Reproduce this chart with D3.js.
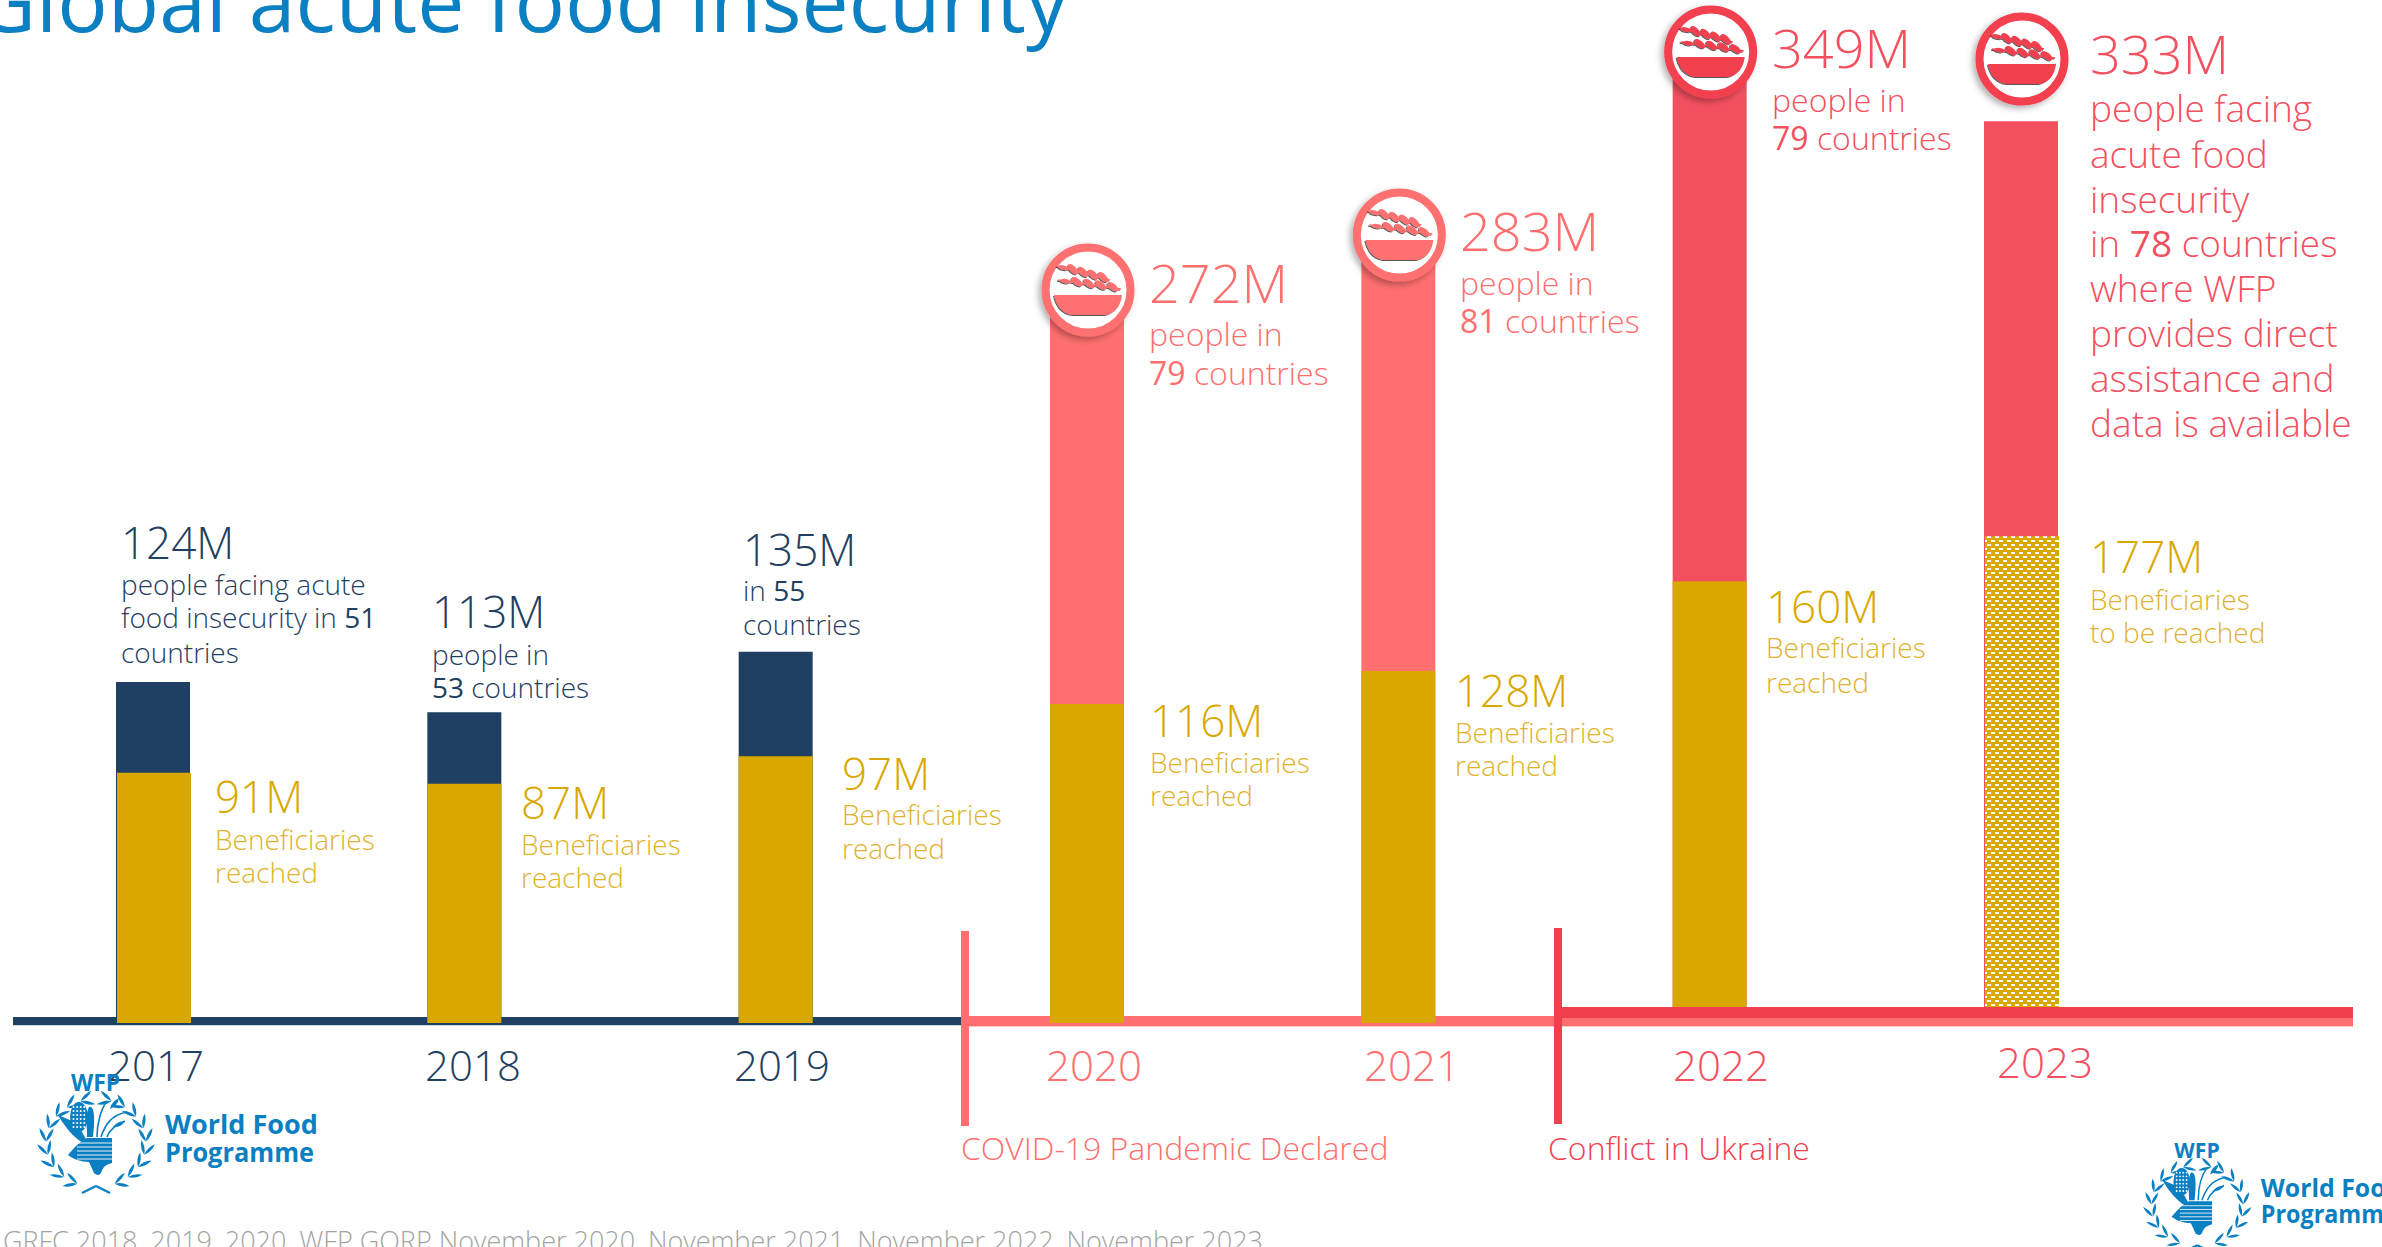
<!DOCTYPE html>
<html>
<head>
<meta charset="utf-8">
<title>Global acute food insecurity</title>
<script src="https://cdn.jsdelivr.net/npm/d3@7"></script>
<style>
  html, body { margin: 0; background: #fff; overflow: hidden; }
  svg { display: block; }
  text { font-family: "Open Sans", sans-serif; }
</style>
</head>
<body>
<svg id="chart" width="2382" height="1247"></svg>
<script>
// values
const years = [2017, 2018, 2019, 2020, 2021, 2022, 2023];
const peopleFacing = [124, 113, 135, 272, 283, 349, 333];
const beneficiaries = [91, 87, 97, 116, 128, 160, 177];
const topNotes = [
  ["people facing acute", "food insecurity in 51", "countries"],
  ["people in", "53 countries"],
  ["in 55", "countries"],
  ["people in", "79 countries"],
  ["people in", "81 countries"],
  ["people in", "79 countries"],
  ["people facing", "acute food", "insecurity", "in 78 countries", "where WFP", "provides direct", "assistance and", "data is available"]
];
const lowNotes = [
  ["Beneficiaries", "reached"],
  ["Beneficiaries", "reached"],
  ["Beneficiaries", "reached"],
  ["Beneficiaries", "reached"],
  ["Beneficiaries", "reached"],
  ["Beneficiaries", "reached"],
  ["Beneficiaries", "to be reached"]
];
const events = ["COVID-19 Pandemic Declared", "Conflict in Ukraine"];
const titleText = "Global acute food insecurity";
const sourceText = "Source: GRFC 2018, 2019, 2020, WFP GORP November 2020, November 2021, November 2022, November 2023";

const NAVY = "#1f4062", GOLD = "#d9a800", PINK = "#ff6f6f", RED = "#f3505f", LINE_RED = "#f23f50", BLUE = "#0a7fc1";
const eraColor = (i) => (i < 3 ? NAVY : i < 5 ? PINK : RED);

// label layout, one row per year: [x, baseline] of the big number, then the note baselines
const topLayout = [
  { x: 121, y: 559, size: 44, sub: 28, notes: [595, 628, 663] },
  { x: 432, y: 628, size: 44, sub: 28, notes: [665, 698] },
  { x: 743, y: 566, size: 44, sub: 28, notes: [601, 635] },
  { x: 1149, y: 303, size: 54, sub: 32, notes: [346, 385] },
  { x: 1460, y: 251, size: 54, sub: 32, notes: [295, 333] },
  { x: 1772, y: 68, size: 54, sub: 32, notes: [112, 150] },
  { x: 2090, y: 74, size: 54, sub: 37, notes: [122, 168, 213, 257, 302, 347, 392, 437] }
];
const lowLayout = [
  { x: 215, y: 813, notes: [850, 883] },
  { x: 521, y: 819, notes: [855, 888] },
  { x: 842, y: 790, notes: [825, 859] },
  { x: 1150, y: 737, notes: [773, 806] },
  { x: 1455, y: 707, notes: [743, 776] },
  { x: 1766, y: 623, notes: [658, 693] },
  { x: 2090, y: 573, notes: [610, 643] }
];
const yearLabelX = [108, 425, 734, 1046, 1364, 1673, 1997];
const yearLabelY = [1081, 1081, 1081, 1081, 1081, 1081, 1078];
const iconY = [null, null, null, 290, 235, 52, 59];

const svg = d3.select("#chart");
const defs = svg.append("defs");

const shadow = defs.append("filter").attr("id", "ringShadow")
  .attr("x", "-30%").attr("y", "-30%").attr("width", "160%").attr("height", "160%");
shadow.append("feDropShadow").attr("dx", -3).attr("dy", 3).attr("stdDeviation", 3)
  .attr("flood-color", "#000").attr("flood-opacity", 0.3);
const inkShadow = defs.append("filter").attr("id", "inkShadow")
  .attr("x", "-20%").attr("y", "-20%").attr("width", "140%").attr("height", "140%");
inkShadow.append("feDropShadow").attr("dx", -1).attr("dy", 1).attr("stdDeviation", 0.7)
  .attr("flood-color", "#000").attr("flood-opacity", 0.65);

// white dashes on gold for the 2023 target
const pat = defs.append("pattern").attr("id", "dashes").attr("patternUnits", "userSpaceOnUse")
  .attr("x", 1985).attr("y", 534).attr("width", 8).attr("height", 8);
pat.append("rect").attr("width", 8).attr("height", 8).attr("fill", GOLD);
pat.append("rect").attr("x", 2).attr("y", 2).attr("width", 4).attr("height", 2).attr("fill", "#fff");
pat.append("rect").attr("x", 6).attr("y", 6).attr("width", 4).attr("height", 2).attr("fill", "#fff");
pat.append("rect").attr("x", -2).attr("y", 6).attr("width", 4).attr("height", 2).attr("fill", "#fff");

// scales: 2022-23 stand on the raised red line, and are drawn a little tighter
const x = d3.scaleLinear().domain([2017, 2023]).range([116, 1984]);
const barW = 74;
const yEarly = d3.scaleLinear().domain([0, 100]).range([1023, 748]);
const yLate = d3.scaleLinear().domain([0, 100]).range([1007, 741]);
const yFor = (i) => (i < 5 ? yEarly : yLate);

// timeline
const lines = svg.append("g");
lines.append("rect").attr("x", 13).attr("y", 1017).attr("width", 948).attr("height", 8).attr("fill", NAVY);
lines.append("rect").attr("x", 13).attr("y", 1025).attr("width", 948).attr("height", 1).attr("fill", "#c9d6e0");
lines.append("rect").attr("x", 961).attr("y", 1016).attr("width", 1392).attr("height", 10).attr("fill", PINK);
lines.append("rect").attr("x", 961).attr("y", 1026).attr("width", 1392).attr("height", 1).attr("fill", "#ffc4c4");
lines.append("rect").attr("x", 1555).attr("y", 1007).attr("width", 798).attr("height", 11).attr("fill", LINE_RED);
lines.append("rect").attr("x", 961).attr("y", 931).attr("width", 8).attr("height", 195).attr("fill", PINK);
lines.append("rect").attr("x", 1554).attr("y", 928).attr("width", 8).attr("height", 196).attr("fill", LINE_RED);

// bars
const idx = d3.range(years.length);
svg.append("g").selectAll("rect").data(idx).join("rect")
  .attr("x", (i) => x(years[i]))
  .attr("width", barW)
  .attr("y", (i) => yFor(i)(peopleFacing[i]))
  .attr("height", (i) => yFor(i)(0) - yFor(i)(peopleFacing[i]))
  .attr("fill", eraColor);
svg.append("g").selectAll("rect").data(idx).join("rect")
  .attr("x", (i) => x(years[i]) + (i === 0 || i === 6 ? 1 : 0))
  .attr("width", barW)
  .attr("y", (i) => yFor(i)(beneficiaries[i]))
  .attr("height", (i) => yFor(i)(0) - yFor(i)(beneficiaries[i]))
  .attr("fill", (i) => (i === 6 ? "url(#dashes)" : GOLD));

// bowl + wheat badge, drawn around the origin
function drawBadge(g, color) {
  g.append("circle").attr("r", 42.5).attr("fill", "#fff").attr("stroke", color).attr("stroke-width", 8)
    .attr("filter", "url(#ringShadow)");
  const ink = g.append("g").attr("fill", color).attr("filter", "url(#inkShadow)");
  ink.append("path").attr("d", "M-34 5H34C33 15 27 24 17 25H-15C-26 24 -32 15 -34 5Z");
  const stalks = [[-31, -24, 22, -10], [-30, -10, 33, -1]];
  stalks.forEach(([x0, y0, x1, y1]) => {
    ink.append("path").attr("d", `M${x0} ${y0}L${x1} ${y1}`)
      .attr("stroke", color).attr("stroke-width", 1.6).attr("fill", "none");
    const angle = Math.atan2(y1 - y0, x1 - x0) * 180 / Math.PI;
    d3.range(4).forEach((k) => {
      const t = 0.3 + k * 0.19;
      const px = x0 + (x1 - x0) * t, py = y0 + (y1 - y0) * t;
      ink.append("ellipse")
        .attr("rx", 6.5).attr("ry", 3.2)
        .attr("transform", `translate(${px},${py - 1}) rotate(${angle + 30})`);
    });
    ink.append("ellipse").attr("rx", 5).attr("ry", 2.2)
      .attr("transform", `translate(${x0 + (x1 - x0) * 0.12},${y0 + (y1 - y0) * 0.12}) rotate(${angle})`);
  });
}
idx.filter((i) => iconY[i] !== null).forEach((i) => {
  const g = svg.append("g").attr("transform", `translate(${x(years[i]) + barW / 2 + 1},${iconY[i]})`);
  drawBadge(g, i < 5 ? PINK : LINE_RED);
});

// note lines; the country counts are set a little heavier
function noteLine(g, str, px, py, size, color, strong) {
  const t = g.append("text").attr("x", px).attr("y", py).attr("font-size", size)
    .attr("font-weight", 300).attr("fill", color);
  str.split(/(\d+)/).forEach((part, k) => {
    if (!part) return;
    t.append("tspan").text(part).attr("font-weight", k % 2 && strong ? 400 : 300);
  });
}
const labels = svg.append("g");
idx.forEach((i) => {
  const top = topLayout[i], low = lowLayout[i], c = eraColor(i);
  labels.append("text").attr("x", top.x).attr("y", top.y).attr("font-size", top.size)
    .attr("font-weight", 300).attr("fill", c).text(`${peopleFacing[i]}M`);
  topNotes[i].forEach((str, k) => noteLine(labels, str, top.x, top.notes[k], top.sub, c, true));
  labels.append("text").attr("x", low.x).attr("y", low.y).attr("font-size", 44)
    .attr("font-weight", 300).attr("fill", GOLD).text(`${beneficiaries[i]}M`);
  lowNotes[i].forEach((str, k) => noteLine(labels, str, low.x, low.notes[k], 28, "#e0b22c", false));
  labels.append("text").attr("x", yearLabelX[i]).attr("y", yearLabelY[i]).attr("font-size", 42)
    .attr("font-weight", 300).attr("fill", c).text(years[i]);
});

labels.append("text").attr("x", 961).attr("y", 1160).attr("font-size", 32)
  .attr("font-weight", 300).attr("fill", PINK).text(events[0]);
labels.append("text").attr("x", 1548).attr("y", 1160).attr("font-size", 32)
  .attr("font-weight", 300).attr("fill", LINE_RED).text(events[1]);

labels.append("text").attr("x", 1068).attr("y", 32).attr("text-anchor", "end").attr("font-size", 84)
  .attr("fill", BLUE).text(titleText);
labels.append("text").attr("x", 1263).attr("y", 1251).attr("text-anchor", "end").attr("font-size", 27)
  .attr("font-weight", 300).attr("fill", "#a3a3a3").text(sourceText);

// WFP emblem, sketched in a 300x140 box
function drawLogo(g) {
  const leaf = (cx, cy, len, wid, rot) => g.append("path")
    .attr("d", `M0 0Q${len * 0.5} ${-wid} ${len} 0Q${len * 0.5} ${wid} 0 0Z`)
    .attr("transform", `translate(${cx},${cy}) rotate(${rot})`)
    .attr("fill", BLUE);
  g.append("text").attr("x", 46).attr("y", 26).attr("font-size", 23).attr("font-weight", 700)
    .attr("fill", BLUE).text("WFP");
  // wreath: pairs of leaves climbing each side from the knot at the bottom
  [-1, 1].forEach((side) => {
    d3.range(9).forEach((k) => {
      const a = (22 + k * 17.5) * Math.PI / 180;
      const px = 71 + side * 50 * Math.sin(a), py = 78 + 44 * Math.cos(a);
      const along = Math.atan2(-Math.sin(a) * 44, side * Math.cos(a) * 50) * 180 / Math.PI;
      leaf(px, py, 15, 3.2, along - 28);
      leaf(px, py, 15, 3.2, along + 28);
    });
    // knot ribbons
    g.append("path").attr("d", `M71 121L${71 + side * 14} 128`)
      .attr("stroke", BLUE).attr("stroke-width", 2.5).attr("fill", "none");
  });
  // corn, stalks and the hand
  g.append("path").attr("d", "M33 50L52 58L62 76L58 78C48 72 40 62 33 50Z").attr("fill", BLUE);
  g.append("ellipse").attr("cx", 54).attr("cy", 52).attr("rx", 9).attr("ry", 15).attr("fill", BLUE);
  d3.range(6).forEach((r) => d3.range(4).forEach((c) => {
    g.append("circle").attr("cx", 48.5 + c * 3.6).attr("cy", 42 + r * 4).attr("r", 1).attr("fill", "#fff");
  }));
  g.append("path").attr("d", "M64 42C70 40 70 56 68 72L62 72C62 60 60 50 64 42Z").attr("fill", BLUE);
  g.append("path").attr("d", "M72 72C72 58 76 44 82 36M76 72C80 60 86 50 102 47M82 72C84 66 90 60 100 56")
    .attr("fill", "none").attr("stroke", BLUE).attr("stroke-width", 1.6);
  leaf(85, 44, 14, 4, -50); leaf(88, 62, 13, 4, -25);
  g.append("path").attr("d", "M87 73V98C80 100 78 102 76 108C74 111 71 110 69 108L64 97C56 97 48 94 43 90C48 84 54 77 62 73Z").attr("fill", BLUE);
  d3.range(5).forEach((k) => g.append("path").attr("d", `M${52 - (k === 4 ? 0 : 0)} ${78 + k * 4}H87`)
    .attr("stroke", "#fff").attr("stroke-width", 0.9));
  g.append("text").attr("x", 140).attr("y", 69).attr("font-size", 27).attr("font-weight", 700)
    .attr("fill", BLUE).text("World Food");
  g.append("text").attr("x", 140).attr("y", 97).attr("font-size", 27).attr("font-weight", 700)
    .attr("textLength", 149).attr("lengthAdjust", "spacingAndGlyphs")
    .attr("fill", BLUE).text("Programme");
}
drawLogo(svg.append("g").attr("transform", "translate(25,1065)"));
drawLogo(svg.append("g").attr("transform", "translate(2132,1134) scale(0.92)"));
</script>
</body>
</html>
